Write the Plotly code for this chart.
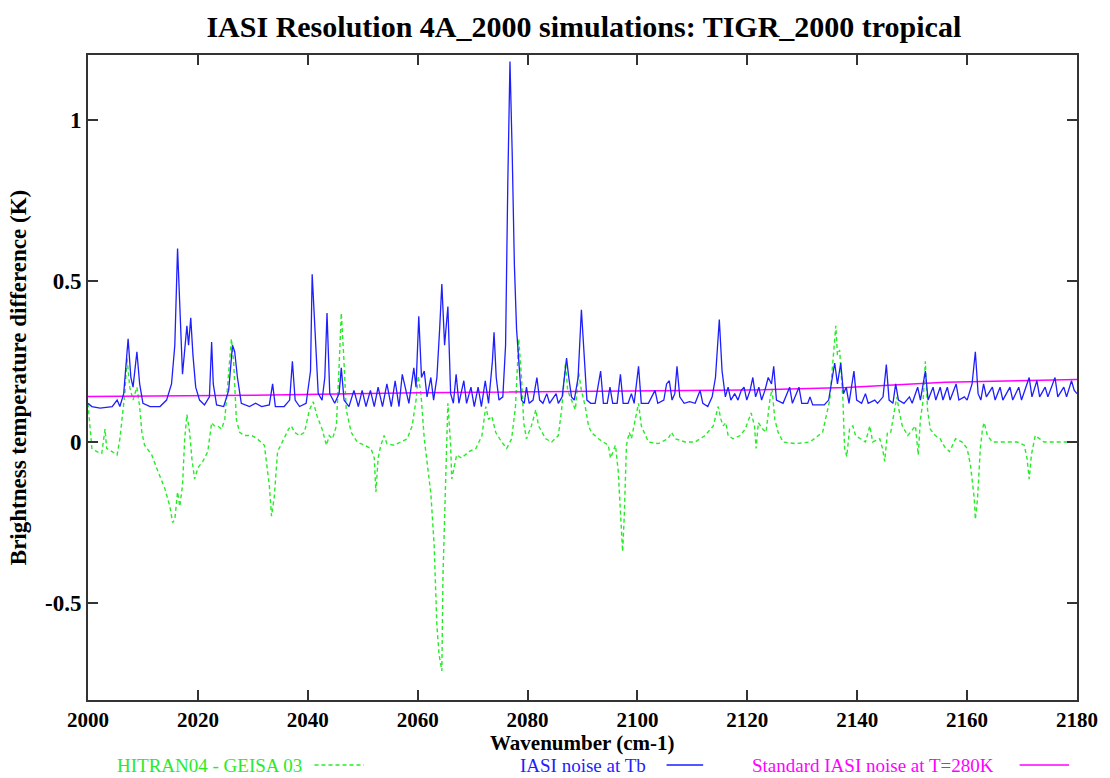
import plotly.graph_objects as go

# ---------------- data ----------------
# HITRAN04 - GEISA 03 difference (green, dashed)
green_x = [2000.0, 2000.4, 2000.7, 2001.6, 2002.5, 2003.1, 2003.4, 2004.4, 2005.3, 2005.8,
           2006.7, 2007.1, 2007.6, 2008.2, 2008.9, 2009.4, 2009.8, 2010.3, 2011.6, 2012.7,
           2014.0, 2014.9, 2015.4, 2015.8, 2016.3, 2016.7, 2017.2, 2017.6, 2018.0, 2018.5,
           2018.9, 2019.4, 2020.0, 2020.9, 2021.8, 2022.5, 2023.0, 2023.6, 2024.3, 2024.9,
           2025.4, 2026.1, 2026.5, 2027.0, 2027.6, 2028.5, 2029.8, 2030.8, 2032.1, 2033.0,
           2033.4, 2033.9, 2034.5, 2035.4, 2036.5, 2037.0, 2037.6, 2038.5, 2039.4, 2040.3,
           2041.0, 2041.7, 2042.6, 2043.4, 2043.9, 2044.5, 2045.2, 2045.7, 2046.1, 2046.5,
           2047.0, 2047.9, 2049.0, 2050.3, 2051.5, 2052.1, 2052.4, 2052.8, 2053.3, 2053.9,
           2054.4, 2055.7, 2057.0, 2058.1, 2059.0, 2059.7, 2060.1, 2060.6, 2061.2, 2061.7,
           2062.4, 2063.0, 2063.5, 2063.9, 2064.4, 2064.6, 2064.8, 2065.1, 2065.5, 2066.0,
           2066.2, 2066.8, 2067.1, 2068.0, 2069.3, 2070.6, 2071.7, 2072.4, 2072.9, 2073.5,
           2074.2, 2075.3, 2076.2, 2077.1, 2077.8, 2078.4, 2078.9, 2079.3, 2079.8, 2080.7,
           2081.5, 2082.0, 2083.3, 2084.4, 2085.6, 2086.2, 2086.9, 2087.3, 2088.0, 2088.7,
           2089.3, 2089.8, 2090.5, 2091.1, 2091.6, 2092.9, 2093.8, 2094.7, 2095.1, 2096.0,
           2096.5, 2096.9, 2097.3, 2097.6, 2098.0, 2098.5, 2098.9, 2099.6, 2100.2, 2100.7,
           2102.0, 2103.8, 2105.6, 2106.2, 2106.9, 2108.7, 2110.5, 2112.3, 2113.8, 2114.7,
           2115.2, 2115.6, 2116.1, 2116.5, 2117.4, 2118.7, 2119.6, 2120.7, 2121.3, 2121.6,
           2122.0, 2122.8, 2123.4, 2124.1, 2124.5, 2125.0, 2125.6, 2126.5, 2128.8, 2131.4,
           2133.7, 2135.0, 2135.5, 2136.1, 2136.4, 2136.8, 2137.4, 2137.7, 2138.1, 2138.6,
           2139.2, 2139.7, 2140.6, 2141.5, 2142.3, 2142.8, 2144.1, 2144.6, 2145.0, 2145.5,
           2146.1, 2146.8, 2147.2, 2147.7, 2148.2, 2149.2, 2149.7, 2150.6, 2151.1, 2151.5,
           2152.0, 2152.4, 2152.8, 2153.3, 2154.2, 2155.1, 2155.9, 2156.8, 2157.9, 2159.1,
           2160.0, 2160.6, 2161.3, 2161.5, 2161.9, 2162.4, 2162.8, 2163.1, 2163.7, 2164.6,
           2166.8, 2169.1, 2170.4, 2170.9, 2171.3, 2171.7, 2172.4, 2174.0, 2176.4, 2180.0]
green_y = [0.12, 0.03, -0.02, -0.03, -0.035, 0.04, -0.02, -0.03, -0.04, 0.01,
           0.15, 0.26, 0.17, 0.13, 0.17, 0.11, 0.03, -0.01, -0.04, -0.09,
           -0.145, -0.2, -0.25, -0.24, -0.155, -0.2, -0.135, 0.01, 0.085, 0.03,
           -0.05, -0.115, -0.08, -0.06, -0.03, 0.06, 0.05, 0.05, 0.04, 0.07,
           0.17, 0.32, 0.25, 0.07, 0.03, 0.02, 0.02, 0.01, -0.01, -0.135,
           -0.23, -0.17, -0.03, 0.0, 0.04, 0.05, 0.03, 0.02, 0.03, 0.10,
           0.125, 0.08, 0.04, -0.01, 0.02, 0.01, 0.05, 0.235, 0.40, 0.28,
           0.10, 0.03, 0.0, -0.01, -0.02, -0.05, -0.155, -0.05, -0.01, 0.02,
           -0.005, -0.01, 0.0, 0.01, 0.05, 0.13, 0.205, 0.15, 0.01, -0.07,
           -0.16, -0.32, -0.57, -0.66, -0.71, -0.42, -0.32, -0.115, 0.12, -0.01,
           -0.115, -0.07, -0.04, -0.05, -0.03, -0.02, 0.02, 0.11, 0.07, 0.08,
           0.03, 0.0, -0.02, 0.01, 0.11, 0.32, 0.2, 0.06, 0.01, 0.05,
           0.10, 0.05, 0.01, 0.0, 0.02, 0.10, 0.245, 0.16, 0.13, 0.10,
           0.215, 0.16, 0.11, 0.05, 0.03, 0.01, 0.0, -0.01, -0.05, -0.01,
           -0.09, -0.2, -0.34, -0.23, -0.01, 0.03, 0.01, 0.07, 0.12, 0.05,
           0.0, -0.005, 0.01, 0.03, 0.01, 0.0, 0.0, 0.02, 0.05, 0.11,
           0.07, 0.05, 0.06, 0.02, 0.01, 0.02, 0.04, 0.09, 0.05, -0.02,
           0.06, 0.04, 0.03, 0.13, 0.165, 0.07, 0.03, 0.0, -0.005, 0.0,
           0.03, 0.13, 0.235, 0.36, 0.27, 0.285, 0.13, -0.02, -0.045, 0.04,
           0.05, 0.02, 0.01, 0.0, 0.05, 0.0, 0.01, -0.02, -0.06, 0.03,
           0.03, 0.10, 0.14, 0.09, 0.05, 0.02, 0.03, 0.05, -0.04, 0.07,
           0.13, 0.25, 0.10, 0.04, 0.02, 0.01, -0.015, -0.03, 0.01, 0.0,
           -0.02, -0.07, -0.175, -0.24, -0.175, -0.02, 0.04, 0.06, 0.02, 0.0,
           0.0, 0.0, -0.01, -0.05, -0.115, -0.04, 0.02, 0.0, 0.0, 0.0]

# IASI noise at Tb (blue, solid)
blue_x = [2000.0, 2000.7, 2002.2, 2004.4, 2005.3, 2005.8, 2006.5, 2007.3, 2007.8, 2008.2,
          2008.9, 2009.4, 2010.0, 2011.3, 2013.1, 2014.3, 2015.2, 2015.8, 2016.3, 2016.7,
          2017.2, 2018.0, 2018.3, 2018.7, 2019.1, 2019.6, 2020.3, 2021.2, 2022.1, 2022.5,
          2022.8, 2023.4, 2024.7, 2025.6, 2026.3, 2026.7, 2027.2, 2027.9, 2029.4, 2030.5,
          2031.6, 2033.0, 2033.6, 2034.1, 2035.7, 2036.7, 2037.2, 2037.7, 2038.5, 2039.7,
          2040.5, 2040.8, 2041.4, 2041.9, 2042.6, 2043.1, 2043.5, 2044.0, 2044.9, 2045.7,
          2046.1, 2046.6, 2047.5, 2048.4, 2049.2, 2049.9, 2050.6, 2051.4, 2052.1, 2052.8,
          2053.6, 2054.4, 2055.2, 2055.9, 2056.6, 2057.2, 2058.4, 2059.3, 2059.7, 2060.2,
          2060.7, 2061.2, 2061.7, 2062.4, 2062.9, 2063.5, 2064.0, 2064.4, 2064.9, 2065.5,
          2066.0, 2066.5, 2067.0, 2067.5, 2068.4, 2068.9, 2069.7, 2070.3, 2071.0, 2071.6,
          2072.3, 2072.9, 2073.6, 2073.9, 2074.3, 2074.8, 2075.5, 2076.0, 2076.4, 2076.8,
          2077.2, 2077.6, 2078.0, 2078.4, 2078.9, 2079.4, 2079.8, 2080.3, 2081.0, 2081.7,
          2082.2, 2082.8, 2083.5, 2084.0, 2085.2, 2085.6, 2086.3, 2086.7, 2087.1, 2087.5,
          2088.0, 2088.5, 2089.2, 2089.8, 2090.3, 2090.8, 2091.5, 2092.3, 2093.3, 2093.8,
          2094.5, 2095.0, 2095.5, 2096.3, 2096.9, 2097.4, 2098.3, 2098.9, 2099.4, 2100.2,
          2100.7, 2102.0, 2103.2, 2103.7, 2104.8, 2105.3, 2105.8, 2106.3, 2106.8, 2107.2,
          2107.7, 2108.5, 2109.5, 2110.5, 2111.4, 2111.9, 2112.8, 2113.6, 2114.2, 2114.9,
          2115.4, 2116.0, 2116.5, 2117.0, 2117.7, 2118.3, 2118.9, 2119.4, 2119.9, 2120.5,
          2121.0, 2121.5, 2122.1, 2122.6, 2123.2, 2123.8, 2124.4, 2124.8, 2125.3, 2126.5,
          2127.7, 2128.2, 2129.4, 2129.9, 2131.0, 2131.4, 2131.9, 2134.0, 2134.8, 2135.5,
          2135.9, 2136.4, 2137.0, 2137.5, 2138.0, 2138.5, 2139.4, 2139.9, 2140.8, 2141.5,
          2142.0, 2143.2, 2143.7, 2144.7, 2145.3, 2145.8, 2146.5, 2147.0, 2147.5, 2148.5,
          2149.5, 2150.0, 2151.0, 2151.5, 2152.4, 2152.9, 2153.8, 2154.3, 2155.1, 2155.6,
          2156.4, 2156.9, 2158.0, 2158.5, 2159.5, 2160.0, 2160.9, 2161.5, 2162.0, 2162.5,
          2163.0, 2163.5, 2164.6, 2165.1, 2166.0, 2166.5, 2167.8, 2168.3, 2169.4, 2169.9,
          2171.3, 2171.8, 2172.7, 2173.2, 2174.2, 2174.7, 2176.0, 2176.5, 2177.6, 2178.1,
          2179.0, 2179.5, 2180.0]
blue_y = [0.12, 0.11, 0.105, 0.11, 0.13, 0.11, 0.15, 0.32, 0.2, 0.17,
          0.28, 0.18, 0.12, 0.11, 0.11, 0.13, 0.18, 0.3, 0.6, 0.4,
          0.21, 0.36, 0.3, 0.385, 0.27, 0.17, 0.13, 0.115, 0.14, 0.31,
          0.18, 0.115, 0.11, 0.16, 0.30, 0.28, 0.2, 0.12, 0.11, 0.12,
          0.11, 0.115, 0.18, 0.11, 0.11, 0.13, 0.25, 0.13, 0.11, 0.12,
          0.22, 0.52, 0.32, 0.15, 0.13, 0.2, 0.40, 0.15, 0.12, 0.15,
          0.23, 0.13, 0.11, 0.16, 0.11, 0.16, 0.11, 0.16, 0.11, 0.17,
          0.11, 0.18, 0.11, 0.19, 0.11, 0.21, 0.12, 0.23, 0.17, 0.39,
          0.2, 0.22, 0.14, 0.2, 0.13, 0.2, 0.35, 0.49, 0.3, 0.42,
          0.15, 0.12, 0.21, 0.12, 0.19, 0.12, 0.17, 0.11, 0.17, 0.11,
          0.19, 0.12, 0.25, 0.34, 0.2, 0.13, 0.14, 0.3, 0.8, 1.18,
          0.9, 0.55, 0.35, 0.25, 0.13, 0.12, 0.17, 0.12, 0.13, 0.2,
          0.13, 0.12, 0.15, 0.12, 0.15, 0.12, 0.14, 0.2, 0.26, 0.2,
          0.14, 0.13, 0.2, 0.41, 0.25, 0.13, 0.12, 0.12, 0.22, 0.12,
          0.12, 0.17, 0.12, 0.12, 0.21, 0.12, 0.12, 0.15, 0.12, 0.235,
          0.12, 0.12, 0.16, 0.12, 0.13, 0.18, 0.19, 0.13, 0.15, 0.235,
          0.14, 0.12, 0.125, 0.12, 0.16, 0.12, 0.11, 0.14, 0.2, 0.38,
          0.22, 0.14, 0.17, 0.13, 0.15, 0.13, 0.16, 0.17, 0.13, 0.16,
          0.2, 0.14, 0.17, 0.13, 0.16, 0.2, 0.18, 0.235, 0.13, 0.12,
          0.17, 0.12, 0.17, 0.12, 0.12, 0.14, 0.115, 0.115, 0.13, 0.2,
          0.245, 0.18, 0.245, 0.15, 0.17, 0.12, 0.22, 0.13, 0.12, 0.15,
          0.12, 0.13, 0.12, 0.14, 0.24, 0.13, 0.12, 0.18, 0.13, 0.12,
          0.14, 0.12, 0.17, 0.13, 0.22, 0.13, 0.17, 0.13, 0.17, 0.13,
          0.17, 0.13, 0.18, 0.13, 0.14, 0.13, 0.18, 0.28, 0.15, 0.13,
          0.18, 0.14, 0.17, 0.13, 0.17, 0.13, 0.17, 0.13, 0.17, 0.13,
          0.2, 0.14, 0.19, 0.14, 0.17, 0.14, 0.2, 0.14, 0.17, 0.14,
          0.19, 0.16, 0.15]

# Standard IASI noise at T=280K (magenta, solid)
mag_x = [2000, 2030, 2060, 2090, 2120, 2138, 2156, 2180]
mag_y = [0.141, 0.145, 0.153, 0.157, 0.161, 0.169, 0.185, 0.194]

x_ticks = [2000, 2020, 2040, 2060, 2080, 2100, 2120, 2140, 2160, 2180]
y_ticks = [-0.5, 0, 0.5, 1]
y_tick_text = ["-0.5", "0", "0.5", "1"]

title_text = "IASI Resolution 4A_2000 simulations: TIGR_2000 tropical"
x_title = "Wavenumber (cm-1)"
y_title = "Brightness temperature difference (K)"
legend_names = ["HITRAN04 - GEISA 03", "IASI noise at Tb", "Standard IASI noise at T=280K"]

# ---------------- figure ----------------
GREEN = "rgb(40,235,40)"
BLUE = "rgb(30,30,255)"
MAG = "rgb(255,0,255)"
SERIF = "Liberation Serif, Times New Roman, serif"

fig = go.Figure()
fig.add_trace(go.Scatter(x=green_x, y=green_y, mode="lines", name=legend_names[0],
                         line=dict(color=GREEN, width=1.4, dash="4px,3px")))
fig.add_trace(go.Scatter(x=mag_x, y=mag_y, mode="lines", name=legend_names[2],
                         line=dict(color=MAG, width=1.5)))
fig.add_trace(go.Scatter(x=blue_x, y=blue_y, mode="lines", name=legend_names[1],
                         line=dict(color=BLUE, width=1.3)))

axis_common = dict(showgrid=False, zeroline=False, showline=True, mirror="ticks",
                   linecolor="#333333", linewidth=2, ticks="inside", ticklen=10,
                   tickwidth=1.5, tickcolor="#333333")

fig.update_layout(
    width=1110, height=778,
    margin=dict(l=88, r=30, t=55, b=78),
    paper_bgcolor="white", plot_bgcolor="white",
    showlegend=False,
    title=dict(text="<b>" + title_text + "</b>", x=0.526, xanchor="center",
               y=0.966, yanchor="middle",
               font=dict(family=SERIF, size=30, color="black")),
    xaxis=dict(range=[2000, 2180], tickvals=x_ticks,
               tickfont=dict(family=SERIF, size=21, color="black", weight="bold"),
               **axis_common),
    yaxis=dict(range=[-0.8, 1.2], tickvals=y_ticks, ticktext=y_tick_text,
               tickfont=dict(family=SERIF, size=23, color="black", weight="bold"),
               title=dict(text="<b>" + y_title + "</b>", standoff=12,
                          font=dict(family=SERIF, size=23, color="black")),
               **axis_common),
)

# x-axis title placed just under the tick labels
fig.add_annotation(text="<b>" + x_title + "</b>", xref="paper", yref="paper",
                   x=0.5, y=-0.0667, xanchor="center", yanchor="middle", showarrow=False,
                   font=dict(family=SERIF, size=21, color="black"))

# legend drawn beneath the axis: text followed by a short line sample
leg_items = [
    (legend_names[0], GREEN, "4px,3px", 0.027, 0.229, 0.279),
    (legend_names[1], BLUE, "solid", 0.435, 0.585, 0.622),
    (legend_names[2], MAG, "solid", 0.669, 0.942, 0.992),
]
for text, col, dash, tx, lx0, lx1 in leg_items:
    fig.add_annotation(text=text, xref="paper", yref="paper", x=tx, y=-0.1008,
                       xanchor="left", yanchor="middle", showarrow=False,
                       font=dict(family=SERIF, size=19, color=col))
    fig.add_shape(type="line", xref="paper", yref="paper", x0=lx0, x1=lx1,
                  y0=-0.1008, y1=-0.1008, line=dict(color=col, width=1.3, dash=dash))

fig.write_html("out.html")
